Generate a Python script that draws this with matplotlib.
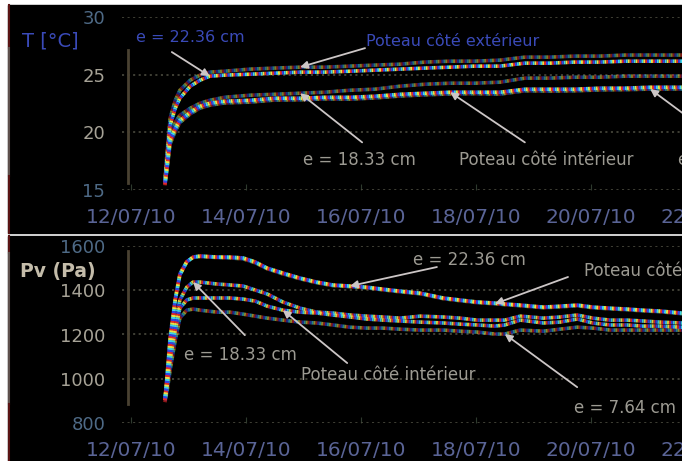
import matplotlib
matplotlib.use('Agg')
import matplotlib.pyplot as plt
import matplotlib.dates as mdates
from matplotlib.lines import Line2D
from matplotlib.patches import Rectangle
from datetime import datetime
import numpy as np

plt.rcParams['lines.scale_dashes'] = False
plt.rcParams['font.family'] = 'DejaVu Sans'

t0 = mdates.date2num(datetime(2010, 7, 12))

# temps depuis le 12/07/10 00h00 (jours)
jours_T = [0.59, 0.63, 0.68, 0.77, 0.85, 1.03, 1.20, 1.37, 1.63, 2.07, 2.50, 2.94, 3.37, 3.81,
           4.24, 4.68, 5.11, 5.55, 5.98, 6.42, 6.85, 7.29, 7.72, 8.16, 8.59, 9.03, 9.58, 10.28]

# temperature (°C)
T_pot_ext = [15.83, 18.43, 21.22, 22.78, 23.65, 24.52, 24.96, 25.22, 25.30, 25.48, 25.57, 25.65, 25.65, 25.74,
             25.83, 25.91, 26.09, 26.17, 26.17, 26.26, 26.52, 26.52, 26.61, 26.61, 26.70, 26.70, 26.70, 26.70]
T_e2236 = [15.65, 18.00, 20.61, 22.09, 22.96, 24.00, 24.52, 24.87, 24.96, 25.04, 25.13, 25.22, 25.22, 25.30,
           25.39, 25.48, 25.57, 25.65, 25.74, 25.74, 26.00, 26.00, 26.09, 26.09, 26.17, 26.17, 26.17, 26.17]
T_e1833 = [15.57, 17.57, 19.74, 20.87, 21.48, 22.09, 22.52, 22.78, 23.04, 23.22, 23.30, 23.39, 23.48, 23.65,
           23.74, 24.00, 24.17, 24.26, 24.26, 24.35, 24.70, 24.70, 24.78, 24.78, 24.87, 24.87, 24.87, 24.87]
T_pot_int = [15.48, 17.13, 19.30, 20.35, 21.04, 21.74, 22.26, 22.52, 22.70, 22.78, 22.96, 22.96, 23.04, 23.04,
             23.13, 23.30, 23.39, 23.48, 23.48, 23.48, 23.74, 23.74, 23.74, 23.83, 23.83, 23.91, 23.91, 23.91]
T_e764 = [15.40, 16.90, 19.00, 20.10, 20.85, 21.60, 22.10, 22.35, 22.55, 22.62, 22.80, 22.82, 22.90, 22.88,
          22.98, 23.15, 23.25, 23.33, 23.35, 23.32, 23.60, 23.58, 23.60, 23.68, 23.70, 23.75, 23.76, 23.76]

jours_Pv = [0.59, 0.63, 0.68, 0.77, 0.85, 0.97, 1.08, 1.20, 1.50, 1.72, 1.95, 2.16, 2.37, 2.64, 2.94,
            3.23, 3.51, 3.81, 4.10, 4.38, 4.68, 5.03, 5.43, 5.72, 6.02, 6.33, 6.50, 6.77, 7.17, 7.46,
            7.76, 8.03, 8.33, 8.63, 8.90, 9.20, 9.58, 10.28]

# pression de vapeur (Pa)
Pv_e2236 = [903, 1016, 1175, 1356, 1469, 1528, 1550, 1555, 1550, 1550, 1546, 1528, 1500, 1478, 1455,
            1437, 1424, 1419, 1414, 1405, 1396, 1387, 1365, 1356, 1347, 1342, 1338, 1333, 1324, 1328,
            1333, 1324, 1319, 1315, 1310, 1306, 1297, 1292]
Pv_pot_ext = [905, 1025, 1190, 1365, 1475, 1530, 1548, 1552, 1548, 1546, 1542, 1524, 1497, 1474, 1452,
              1434, 1421, 1416, 1411, 1402, 1393, 1384, 1362, 1353, 1344, 1339, 1335, 1330, 1321, 1325,
              1330, 1321, 1316, 1312, 1307, 1303, 1294, 1289]
Pv_e1833 = [903, 994, 1129, 1265, 1356, 1414, 1437, 1437, 1428, 1424, 1419, 1401, 1383, 1347, 1319,
            1301, 1297, 1288, 1283, 1279, 1274, 1283, 1279, 1274, 1265, 1265, 1265, 1283, 1274, 1279,
            1288, 1274, 1265, 1265, 1261, 1256, 1252, 1252]
Pv_pot_int = [903, 971, 1084, 1220, 1319, 1356, 1365, 1365, 1365, 1365, 1360, 1351, 1328, 1310, 1301,
              1297, 1288, 1279, 1270, 1265, 1261, 1256, 1252, 1247, 1243, 1238, 1243, 1265, 1252, 1256,
              1270, 1252, 1243, 1243, 1238, 1238, 1233, 1233]
Pv_e764 = [894, 948, 1039, 1175, 1274, 1310, 1315, 1310, 1301, 1301, 1292, 1283, 1274, 1265, 1256,
           1252, 1243, 1233, 1229, 1229, 1224, 1220, 1220, 1215, 1211, 1202, 1202, 1220, 1215, 1224,
           1233, 1229, 1220, 1220, 1220, 1220, 1220, 1215]

jours_ticks = [0, 2, 4, 6, 8, 10]
T_ticks = [15, 20, 25, 30]
Pv_ticks = [800, 1000, 1200, 1400, 1600]

W, H = 682, 461
COUL = ['#e82828', '#ece446', '#3cd6e8', '#3444e8']
GRIS = '#9c9a92'
BLEU = '#3a4ab8'
FLECHE = '#ccc6c6'


def courbe(ax, jours, vals, alpha):
    x = t0 + np.array(jours)
    for k, c in enumerate(COUL):
        ax.plot(x, vals, color=c, lw=2.6, alpha=alpha,
                linestyle=(k * 1.4, (1.4, 4.2)), dash_capstyle='butt', zorder=3)


def fleche(ax, tip, tail):
    ax.annotate('', xy=tip, xytext=tail,
                arrowprops=dict(arrowstyle='-|>', color=FLECHE, lw=1.3, mutation_scale=11,
                                shrinkA=0, shrinkB=0), zorder=4, annotation_clip=False)


def jour(j):
    return t0 + j


fig = plt.figure(figsize=(W / 100, H / 100), dpi=100, facecolor='white')

# fonds noirs des deux graphes
fig.patches.append(Rectangle((8 / W, 1 - 233 / H), 1, 228 / H, transform=fig.transFigure,
                             color='black', zorder=-10))
fig.patches.append(Rectangle((8 / W, 0), 1, 1 - 236 / H, transform=fig.transFigure,
                             color='black', zorder=-10))
for y0, y1, c in [(5, 48, '#5a1414'), (48, 176, '#5e504c'), (176, 233, '#5a1414'),
                  (236, 253, '#5a1414'), (253, 404, '#5e504c'), (404, 461, '#5a1414')]:
    fig.lines.append(Line2D([8.5 / W, 8.5 / W], [1 - y0 / H, 1 - y1 / H], transform=fig.transFigure,
                            color=c, lw=1.5, zorder=-5))

axT = fig.add_axes([122 / W, 1 - 190 / H, (720 - 122) / W, 173 / H])
axP = fig.add_axes([122 / W, 1 - 423 / H, (720 - 122) / W, 177 / H])

for ax, ticks in [(axT, T_ticks), (axP, Pv_ticks)]:
    ax.set_zorder(2)
    ax.set_facecolor('none')
    for s in ax.spines.values():
        s.set_visible(False)
    ax.set_xlim(jour(-9 / 57.5), jour(589 / 57.5))
    ax.set_ylim(ticks[0], ticks[-1])
    ax.set_yticks(ticks)
    ax.set_xticks([jour(j) for j in jours_ticks])
    ax.xaxis.set_major_formatter(mdates.DateFormatter('%d/%m/%y'))
    ax.yaxis.grid(True, linestyle=(0, (1.5, 2.5)), color='#4a4a3e', lw=1.2, zorder=1)
    ax.tick_params(axis='y', length=0, pad=12, labelsize=13, labelcolor='#a6a296')
    ax.tick_params(axis='x', length=4, direction='in', color='#2e3a2e', pad=13,
                   labelsize=14.5, labelcolor='#5a6496')
    lbls = ax.get_yticklabels()
    lbls[0].set_color('#4e6a86')
    lbls[-1].set_color('#4e6a86')
    ax.axvline(jour(-3 / 57.5), ymin=0.04 if ax is axT else 0.11, ymax=0.81 if ax is axT else 0.97,
               color='#4a4232', lw=2, zorder=2)

# température
courbe(axT, jours_T, T_pot_ext, 0.55)
courbe(axT, jours_T, T_e2236, 1.0)
courbe(axT, jours_T, T_e1833, 0.55)
courbe(axT, jours_T, T_e764, 0.6)
courbe(axT, jours_T, T_pot_int, 1.0)

fleche(axT, (jour(jours_T[7]), T_e2236[7]), (jour(0.71), 26.96))
fleche(axT, (jour(jours_T[11]), T_pot_ext[11]), (jour(4.07), 27.30))
fleche(axT, (jour(jours_T[11]), T_e1833[11]), (jour(4.02), 19.13))
fleche(axT, (jour(jours_T[17]), T_pot_int[17]), (jour(6.85), 19.13))
fleche(axT, (jour(jours_T[25]), T_e764[25]), (jour(9.72), 21.2))

axT.text(jour(1.03), 28.26, 'e = 22.36 cm', color=BLEU, fontsize=11.5, ha='center', va='center')
axT.text(jour(5.60), 27.90, 'Poteau côté extérieur', color=BLEU, fontsize=11.5, ha='center', va='center')
axT.text(jour(3.98), 17.57, 'e = 18.33 cm', color=GRIS, fontsize=12, ha='center', va='center')
axT.text(jour(7.22), 17.57, 'Poteau côté intérieur', color=GRIS, fontsize=12, ha='center', va='center')
axT.text(jour(9.51), 17.57, 'e = 7.64 cm', color=GRIS, fontsize=12, ha='left', va='center')

# pression de vapeur
courbe(axP, jours_Pv, Pv_pot_ext, 0.6)
courbe(axP, jours_Pv, Pv_e2236, 1.0)
courbe(axP, jours_Pv, Pv_e764, 0.6)
courbe(axP, jours_Pv, Pv_e1833, 0.9)
courbe(axP, jours_Pv, Pv_pot_int, 0.9)

fleche(axP, (jour(jours_Pv[17]), Pv_e2236[17]), (jour(5.32), 1505))
fleche(axP, (jour(jours_Pv[25]), Pv_pot_ext[25]), (jour(7.60), 1460))
fleche(axP, (jour(jours_Pv[6]), Pv_e1833[6]), (jour(1.98), 1197))
fleche(axP, (jour(jours_Pv[13]), Pv_pot_int[13]), (jour(3.76), 1071))
fleche(axP, (jour(jours_Pv[26]), Pv_e764[26]), (jour(7.76), 962))

axP.text(jour(5.88), 1537, 'e = 22.36 cm', color=GRIS, fontsize=12, ha='center', va='center')
axP.text(jour(7.88), 1487, 'Poteau côté extérieur', color=GRIS, fontsize=12, ha='left', va='center')
axP.text(jour(1.91), 1107, 'e = 18.33 cm', color=GRIS, fontsize=12, ha='center', va='center')
axP.text(jour(4.47), 1016, 'Poteau côté intérieur', color=GRIS, fontsize=12, ha='center', va='center')
axP.text(jour(8.59), 867, 'e = 7.64 cm', color=GRIS, fontsize=12, ha='center', va='center')

fig.text(50 / W, 1 - 41 / H, 'T [°C]', color=BLEU, fontsize=14, ha='center', va='center')
fig.text(58 / W, 1 - 272 / H, 'Pv (Pa)', color='#c4bcaa', fontsize=13.5, fontweight='bold',
         ha='center', va='center')

fig.savefig('out.png', dpi=100, facecolor='white')
